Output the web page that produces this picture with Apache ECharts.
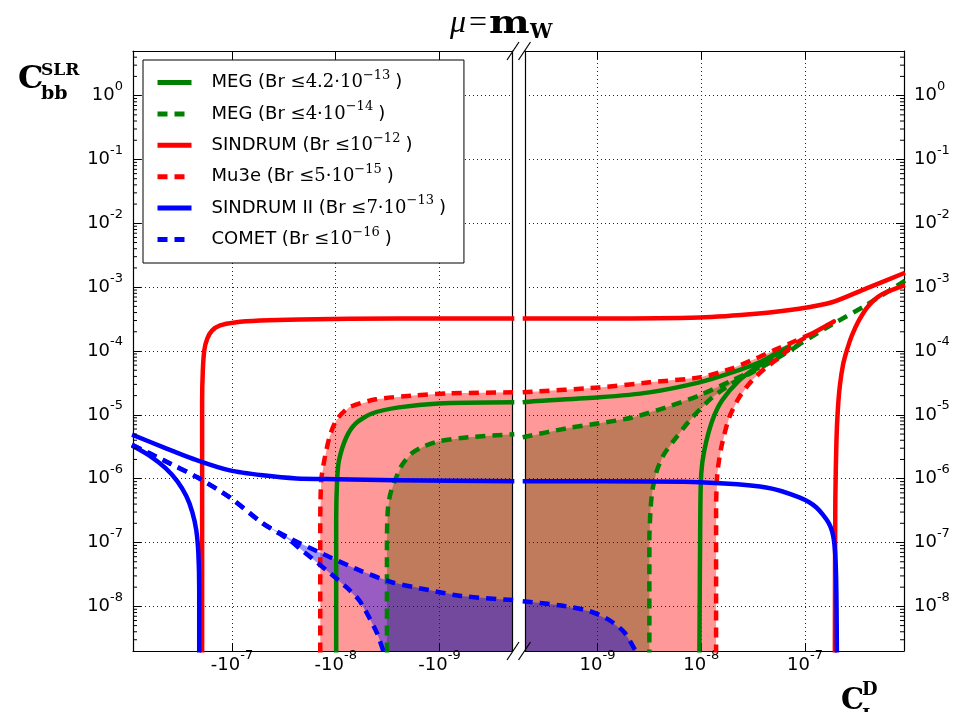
<!DOCTYPE html>
<html>
<head>
<meta charset="utf-8">
<script src="https://cdn.jsdelivr.net/npm/echarts@6/dist/echarts.min.js"></script>
<style>
  html, body { margin: 0; padding: 0; background: #fff; }
  #chart { width: 963px; height: 712px; }
</style>
</head>
<body>
<div id="chart"></div>
<script>
// ---- axis ranges (each half of the broken C_L^D axis is logarithmic in |C_L^D|) ----
const xMin = 2e-10, xMax = 9e-7;
const yMin = 2e-9, yMax = 5;

// ---- legend entries ----
const experiments = ['MEG', 'MEG', 'SINDRUM', 'Mu3e', 'SINDRUM II', 'COMET'];
const brMantissa = ['4.2·', '4·', '', '5·', '7·', ''];
const brExponent = ['−13', '−14', '−12', '−15', '−13', '−16'];
const seriesNames = experiments.map((e, i) => e + ' ' + brMantissa[i] + '1e' + brExponent[i]);

// ---- contour curves: [C_L^D, C_bb^SLR] ----
// MEG, Br <= 4.2e-13 (solid green)
const megLeft = [[-9.9e-9,1.9e-9],[-9.9e-9,2.23e-7],[-9.7e-9,9.4e-7],[-9.3e-9,1.94e-6],[-7.9e-9,4.45e-6],[-6.37e-9,7.4e-6],[-4.48e-9,1.05e-5],[-2.47e-9,1.31e-5],[-1.02e-9,1.51e-5],[-1.9e-10,1.57e-5]];
const megRightUpper = [[1.9e-10,1.57e-5],[2.4e-10,1.63e-5],[1.04e-9,1.88e-5],[3.16e-9,2.25e-5],[9.6e-9,3.23e-5],[1.99e-8,4.62e-5],[3.6e-8,6.6e-5],[5.26e-8,9.2e-5],[7.02e-8,1.18e-4]];
const megRightLower = [[7.02e-8,1.18e-4],[4.5e-8,7.66e-5],[3.38e-8,5.5e-5],[2.32e-8,3.47e-5],[1.59e-8,1.69e-5],[1.28e-8,8.2e-6],[1.07e-8,2.78e-6],[1.0e-8,1.21e-6],[9.8e-9,3.57e-7],[9.6e-9,1.9e-9]];

// MEG upgrade, Br <= 4e-14 (dashed green)
const megFutLeft = [[-3.21e-9,1.9e-9],[-3.21e-9,1.09e-7],[-3.15e-9,3.2e-7],[-3.0e-9,5.5e-7],[-2.75e-9,8.5e-7],[-2.31e-9,1.62e-6],[-1.85e-9,2.5e-6],[-1.42e-9,3.2e-6],[-1.02e-9,3.85e-6],[-5.3e-10,4.45e-6],[-1.9e-10,4.95e-6]];
const megFutRightUpper = [[1.9e-10,4.45e-6],[5.03e-10,6.15e-6],[1.04e-9,7.36e-6],[2.17e-9,9.1e-6],[4.6e-9,1.31e-5],[9.6e-9,2.02e-5],[1.99e-8,3.47e-5],[3.6e-8,5.5e-5],[5.6e-8,8.5e-5],[8.8e-8,1.27e-4]];
const megFutTail = [[8.8e-8,1.27e-4],[1.82e-7,2.6e-4],[3.86e-7,5.2e-4],[9.2e-7,1.27e-3]];
const megFutRightLower = [[8.8e-8,1.27e-4],[7.5e-8,1.06e-4],[4.82e-8,6.9e-5],[3.09e-8,4.62e-5],[1.99e-8,3.11e-5],[1.28e-8,1.88e-5],[8.2e-9,9.1e-6],[5.75e-9,4.45e-6],[4.31e-9,2.32e-6],[3.69e-9,1.26e-6],[3.38e-9,6.6e-7],[3.24e-9,3.2e-7],[3.16e-9,1.09e-7],[3.16e-9,1.9e-9]];

// SINDRUM, Br <= 1e-12 (solid red)
const sindrumLeft = [[-1.94e-7,1.9e-9],[-1.94e-7,4.6e-7],[-1.94e-7,1.69e-5],[-1.91e-7,5.0e-5],[-1.85e-7,1.02e-4],[-1.73e-7,1.57e-4],[-1.55e-7,2.1e-4],[-1.3e-7,2.52e-4],[-9.4e-8,2.8e-4],[-5.4e-8,3.0e-4],[-2.23e-8,3.12e-4],[-2.47e-9,3.24e-4],[-1.9e-10,3.24e-4]];
const sindrumRightUpper = [[1.9e-10,3.24e-4],[1.04e-9,3.24e-4],[9.6e-9,3.36e-4],[3.6e-8,3.88e-4],[8.8e-8,4.6e-4],[1.82e-7,5.8e-4],[3.86e-7,9.5e-4],[9.2e-7,1.68e-3]];
const sindrumRightLower = [[1.94e-7,1.9e-9],[1.96e-7,4.6e-7],[2.01e-7,4.0e-6],[2.07e-7,1.17e-5],[2.17e-7,2.9e-5],[2.32e-7,5.96e-5],[2.53e-7,1.02e-4],[2.83e-7,1.75e-4],[3.3e-7,3.0e-4],[4.12e-7,5.18e-4],[5.5e-7,7.7e-4],[9.2e-7,1.08e-3]];

// Mu3e, Br <= 5e-15 (dashed red)
const mu3eLeft = [[-1.41e-8,1.9e-9],[-1.41e-8,2.23e-7],[-1.38e-8,9.4e-7],[-1.29e-8,1.94e-6],[-1.15e-8,4.45e-6],[-9.9e-9,8.2e-6],[-7.43e-9,1.31e-5],[-4.1e-9,1.75e-5],[-1.7e-9,2.02e-5],[-8.2e-10,2.17e-5],[-1.9e-10,2.25e-5]];
const mu3eRightUpper = [[1.9e-10,2.25e-5],[1.04e-9,2.69e-5],[3.16e-9,3.23e-5],[9.6e-9,3.86e-5],[1.99e-8,5.35e-5],[3.38e-8,7.66e-5],[5.26e-8,1.06e-4],[7.84e-8,1.41e-4],[1.22e-7,1.95e-4],[1.9e-7,2.9e-4]];
const mu3eRightLower = [[1.9e-7,2.9e-4],[7.84e-8,1.27e-4],[6.0e-8,8.5e-5],[4.22e-8,5.5e-5],[3.09e-8,3.47e-5],[2.32e-8,1.88e-5],[1.86e-8,9.1e-6],[1.56e-8,3.1e-6],[1.43e-8,1.21e-6],[1.39e-8,3.57e-7],[1.39e-8,1.9e-9]];

// SINDRUM II, Br <= 7e-13 (solid blue)
const sindrum2Left = [[-9.2e-7,4.9e-6],[-4.57e-7,3.1e-6],[-2.16e-7,1.94e-6],[-1.05e-7,1.35e-6],[-5.05e-8,1.13e-6],[-2.39e-8,1.01e-6],[-9.9e-9,9.8e-7],[-2.64e-9,9.45e-7],[-1.9e-10,9.1e-7]];
const sindrum2LeftLower = [[-9.2e-7,3.3e-6],[-6.1e-7,2.24e-6],[-4.37e-7,1.46e-6],[-3.36e-7,9.1e-7],[-2.75e-7,5.3e-7],[-2.41e-7,2.98e-7],[-2.21e-7,1.56e-7],[-2.11e-7,6.8e-8],[-2.07e-7,1.8e-8],[-2.07e-7,1.9e-9]];
const sindrum2Right = [[1.9e-10,9.1e-7],[1.04e-9,9.1e-7],[9.6e-9,8.8e-7],[4.22e-8,7.3e-7],[8.8e-8,5.1e-7],[1.28e-7,3.57e-7],[1.7e-7,2.0e-7],[1.9e-7,1.09e-7],[1.99e-7,3.3e-8],[2.03e-7,1.9e-9]];

// COMET, Br <= 1e-16 (dashed blue)
const cometLeftShared = [[-9.2e-7,3.4e-6],[-4.57e-7,1.94e-6],[-2.16e-7,1.05e-6],[-1.05e-7,5.1e-7],[-5.05e-8,2.0e-7]];
const cometLeftUpper = [[-5.05e-8,2.0e-7],[-2.79e-8,1.17e-7],[-1.44e-8,7.05e-8],[-5.96e-9,3.69e-8],[-2.88e-9,2.39e-8],[-1.27e-9,1.8e-8],[-6.15e-10,1.45e-8],[-1.9e-10,1.25e-8]];
const cometLeftLower = [[-5.05e-8,2.0e-7],[-2.79e-8,1.09e-7],[-2.23e-8,8.1e-8],[-1.23e-8,3.69e-8],[-7.9e-9,2.0e-8],[-5.96e-9,1.25e-8],[-4.78e-9,6.8e-9],[-4.0e-9,3.8e-9],[-3.44e-9,1.9e-9]];
const cometRight = [[1.9e-10,1.2e-8],[4.3e-10,1.04e-8],[8.4e-10,8.4e-9],[1.3e-9,6.1e-9],[1.82e-9,3.9e-9],[2.37e-9,1.9e-9]];

// ---- styling ----
const RED = '#ff0000', GREEN = '#008000', BLUE = '#0000ff';
const DASH = [10, 7];
const LW = 4.5;
const L = 0, R = 1;          // half of the broken axis
const cornerL = [-1.9e-10, 1.9e-9];
const cornerR = [1.9e-10, 1.9e-9];

const axisIdx = side => (side === L ? 0 : 2);
const toAbs = pts => pts.map(([x, y]) => [Math.abs(x), y]);

function curve(nameIdx, side, pts, color, dashed) {
  const i = axisIdx(side);
  return {
    type: 'line', name: seriesNames[nameIdx], xAxisIndex: i, yAxisIndex: i,
    data: toAbs(pts), symbol: 'none', showSymbol: false, smooth: 0.25,
    lineStyle: { color, width: LW, type: dashed ? DASH : 'solid', cap: 'butt', join: 'round' },
    itemStyle: { color }, z: 3, silent: true, clip: true, animation: false
  };
}

function region(side, pts, fill) {
  const i = axisIdx(side);
  const abs = toAbs(pts);
  return {
    type: 'custom', xAxisIndex: i, yAxisIndex: i, z: 1, silent: true, clip: true,
    data: [abs[0]],
    renderItem: (params, api) => {
      const cs = params.coordSys;
      const clampX = v => Math.min(Math.max(v, cs.x), cs.x + cs.width);
      const clampY = v => Math.min(Math.max(v, cs.y), cs.y + cs.height);
      const points = abs.map(p => { const c = api.coord(p); return [clampX(c[0]), clampY(c[1])]; });
      return { type: 'polygon', shape: { points }, style: { fill } };
    }
  };
}

// minor ticks of the log y axis (2..9 per decade)
const minorY = [];
for (let d = -9; d <= 0; d++) for (let k = 2; k <= 9; k++) {
  const v = k * Math.pow(10, d);
  if (v > yMin && v < yMax) minorY.push(v);
}
function minorTicks(side) {
  const i = axisIdx(side);
  const dir = side === L ? 1 : -1;
  return {
    type: 'custom', xAxisIndex: i, yAxisIndex: i, z: 4, silent: true,
    data: minorY.map(v => [xMax, v]),
    renderItem: (params, api) => {
      const c = api.coord([api.value(0), api.value(1)]);
      return { type: 'line', shape: { x1: c[0], y1: c[1], x2: c[0] + dir * 4, y2: c[1] },
               style: { stroke: '#000', lineWidth: 1 } };
    }
  };
}

const PINK = 'rgba(255,0,0,0.4)';
const BROWN = 'rgba(98,75,0,0.4)';
const PURPLE = 'rgba(0,0,255,0.4)';

const series = [
  region(L, mu3eLeft.concat([cornerL]), PINK),
  region(R, mu3eRightUpper.concat(mu3eRightLower, [cornerR]), PINK),
  region(L, megFutLeft.concat([cornerL]), BROWN),
  region(R, megFutRightUpper.concat(megFutRightLower, [cornerR]), BROWN),
  region(L, cometLeftUpper.concat([cornerL], cometLeftLower.slice().reverse()), PURPLE),
  region(R, cometRight.concat([cornerR]), PURPLE),

  curve(0, L, megLeft, GREEN, false),
  curve(0, R, megRightUpper.concat(megRightLower.slice(1)), GREEN, false),
  curve(1, L, megFutLeft, GREEN, true),
  curve(1, R, megFutRightUpper.concat(megFutTail.slice(1)), GREEN, true),
  curve(1, R, megFutRightLower, GREEN, true),
  curve(2, L, sindrumLeft, RED, false),
  curve(2, R, sindrumRightUpper, RED, false),
  curve(2, R, sindrumRightLower, RED, false),
  curve(3, L, mu3eLeft, RED, true),
  curve(3, R, mu3eRightUpper.concat(mu3eRightLower.slice(1)), RED, true),
  curve(4, L, sindrum2Left, BLUE, false),
  curve(4, L, sindrum2LeftLower, BLUE, false),
  curve(4, R, sindrum2Right, BLUE, false),
  curve(5, L, cometLeftShared.concat(cometLeftUpper.slice(1)), BLUE, true),
  curve(5, L, cometLeftShared.concat(cometLeftLower.slice(1)), BLUE, true),
  curve(5, R, cometRight, BLUE, true),

  minorTicks(L),
  minorTicks(R)
];

// ---- axes ----
const tickRich = {
  b: { fontFamily: 'DejaVu Sans', fontSize: 18, color: '#000', lineHeight: 20 },
  s: { fontFamily: 'DejaVu Sans', fontSize: 13, color: '#000', lineHeight: 14, padding: [0, 0, 18, 0] }
};
function decadeLabel(v, sign) {
  const e = Math.log10(Math.abs(v));
  const r = Math.round(e);
  if (Math.abs(e - r) > 1e-3) return '';
  return '{b|' + sign + '10}{s|' + r + '}';
}
const spine = { show: true, lineStyle: { color: '#000', width: 1.2 } };
const grid = { type: [1, 3], color: '#222', width: 1 };

function xAxis(gridIndex, pos, inverse, labelled) {
  return {
    type: 'log', logBase: 10, gridIndex, position: pos, inverse, min: xMin, max: xMax, z: 2,
    axisLine: spine,
    axisTick: { show: true, inside: true, length: 8, lineStyle: { color: '#000', width: 1 } },
    axisLabel: labelled ? {
      show: true, margin: 4, rich: tickRich, showMinLabel: false, showMaxLabel: false,
      formatter: v => decadeLabel(v, inverse ? '-' : '')
    } : { show: false },
    splitLine: labelled ? { show: true, lineStyle: grid } : { show: false }
  };
}
function yAxis(gridIndex, pos, labelled) {
  return {
    type: 'log', logBase: 10, gridIndex, position: pos, min: yMin, max: yMax, z: 2,
    axisLine: spine,
    axisTick: labelled ? { show: true, inside: true, length: 8, lineStyle: { color: '#000', width: 1 } } : { show: false },
    axisLabel: labelled ? {
      show: true, margin: 10, rich: tickRich, showMinLabel: false, showMaxLabel: false,
      formatter: v => decadeLabel(v, '')
    } : { show: false },
    splitLine: labelled ? { show: true, lineStyle: grid } : { show: false }
  };
}

// ---- legend text ----
const legendRich = {
  a: { fontFamily: 'DejaVu Sans', fontSize: 18, color: '#000', lineHeight: 20, padding: [0, 0, 0, 15] },
  m: { fontFamily: 'DejaVu Serif', fontSize: 18, color: '#000', lineHeight: 20 },
  e: { fontFamily: 'DejaVu Serif', fontSize: 13, color: '#000', lineHeight: 12, padding: [0, 0, 14, 0] },
  c: { fontFamily: 'DejaVu Sans', fontSize: 18, color: '#000', lineHeight: 20, padding: [0, 0, 0, 5] }
};
function legendText(name) {
  const i = seriesNames.indexOf(name);
  return '{a|' + experiments[i] + ' (Br }{m|≤' + brMantissa[i] + '10}{e|' + brExponent[i] + '}{c|)}';
}

// ---- decorations: titles and axis-break marks ----
const ink = '#000';
const breakMarks = [
  [507, 60, 519, 42], [518.5, 60, 530.5, 42],
  [507, 660, 519, 642], [518.5, 660, 530.5, 642]
].map(([x1, y1, x2, y2]) => ({
  type: 'line', shape: { x1, y1, x2, y2 }, style: { stroke: ink, lineWidth: 1.2 }, z: 10
}));
const textEl = (x, y, text, font, scaleX) => ({
  type: 'text', x, y, z: 10, scaleX: scaleX || 1,
  style: { text, font, fill: ink, verticalAlign: 'middle', align: 'left' }
});
const labels = [
  textEl(450, 24, 'μ', 'italic 32px "Liberation Serif"'),
  textEl(469, 24, '=', '32px "Liberation Serif"'),
  textEl(489, 25, 'm', 'bold 32px "DejaVu Serif"', 1.2),
  textEl(530, 33, 'W', 'bold 20px "DejaVu Serif"'),
  textEl(18, 80, 'C', 'bold 32px "DejaVu Serif"'),
  textEl(41, 71, 'SLR', 'bold 17px "DejaVu Serif"'),
  textEl(41, 94, 'bb', 'bold 19px "DejaVu Serif"'),
  textEl(841, 701, 'C', 'bold 29px "DejaVu Serif"'),
  textEl(862, 690, 'D', 'bold 18px "DejaVu Serif"'),
  textEl(862, 717, 'L', 'bold 18px "DejaVu Serif"')
];

const option = {
  animation: false,
  backgroundColor: '#fff',
  textStyle: { fontFamily: 'DejaVu Sans' },
  grid: [
    { left: 133, top: 51, width: 379, height: 600, show: false },
    { left: 525, top: 51, width: 379, height: 600, show: false }
  ],
  xAxis: [
    xAxis(0, 'bottom', true, true),
    xAxis(0, 'top', true, false),
    xAxis(1, 'bottom', false, true),
    xAxis(1, 'top', false, false)
  ],
  yAxis: [
    yAxis(0, 'left', true),
    yAxis(0, 'right', false),
    yAxis(1, 'right', true),
    yAxis(1, 'left', false)
  ],
  legend: {
    orient: 'vertical', left: 143, top: 60, z: 6,
    padding: [9, 18, 10, 12],
    backgroundColor: '#fff', borderColor: '#000', borderWidth: 1, borderRadius: 0,
    itemWidth: 34, itemHeight: 14, itemGap: 4.4,
    selectedMode: false,
    data: seriesNames,
    lineStyle: { width: 5 },
    itemStyle: { color: 'rgba(0,0,0,0)', borderWidth: 0, opacity: 0 },
    formatter: legendText,
    textStyle: { rich: legendRich }
  },
  graphic: breakMarks.concat(labels),
  series
};

const chart = echarts.init(document.getElementById('chart'));
chart.setOption(option);
</script>
</body>
</html>
